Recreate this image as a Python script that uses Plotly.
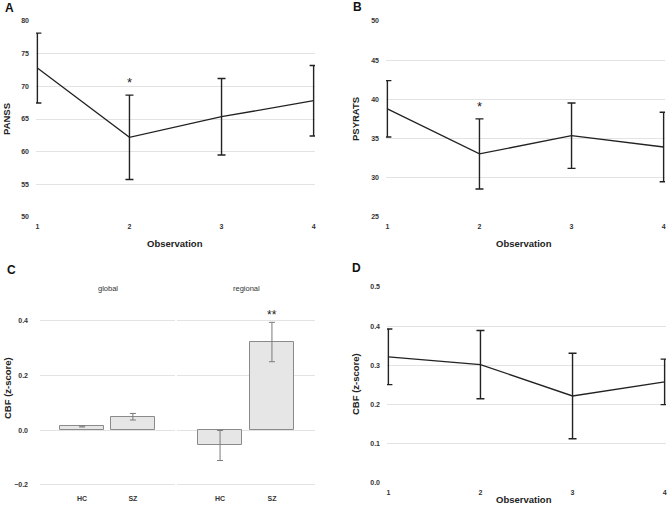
import plotly.graph_objects as go

W, H = 669, 515

observation = [1, 2, 3, 4]

panss_mean = [72.8, 62.2, 65.35, 67.8]
panss_err = [5.35, 6.45, 5.85, 5.4]

psyrats_mean = [38.8, 33.05, 35.37, 33.93]
psyrats_err = [3.6, 4.47, 4.17, 4.43]

cbf_obs_mean = [0.322, 0.302, 0.222, 0.258]
cbf_obs_err = [0.071, 0.087, 0.109, 0.058]

groups = ["HC", "SZ"]
cbf_global_mean = [0.0136, 0.049]
cbf_global_err = [0.002, 0.012]
cbf_regional_mean = [-0.056, 0.322]
cbf_regional_err = [0.055, 0.072]

FONT = "Liberation Sans, Arial, sans-serif"
TICK_FONT = dict(family=FONT, size=7, color="#333333", weight="bold")
GRID = "#e3e3e3"


def xdom(a, b):
    return [a / W, b / W]


def ydom(top, bottom):
    return [1 - bottom / H, 1 - top / H]


def line_trace(y, err, xa, ya):
    return go.Scatter(
        x=observation,
        y=y,
        mode="lines",
        line=dict(color="#222222", width=1.3),
        error_y=dict(type="data", array=err, visible=True, color="#222222", thickness=1.4, width=4),
        xaxis=xa,
        yaxis=ya,
        showlegend=False,
        cliponaxis=False,
    )


def bar_trace(y, err, xa, ya):
    return go.Bar(
        x=groups,
        y=y,
        width=0.86,
        marker=dict(color="#e6e6e6", line=dict(color="#8a8a8a", width=1)),
        error_y=dict(type="data", array=err, visible=True, color="#7a7a7a", thickness=1, width=3),
        xaxis=xa,
        yaxis=ya,
        showlegend=False,
    )


fig = go.Figure()
fig.add_trace(line_trace(panss_mean, panss_err, "x", "y"))
fig.add_trace(line_trace(psyrats_mean, psyrats_err, "x2", "y2"))
fig.add_trace(bar_trace(cbf_global_mean, cbf_global_err, "x3", "y3"))
fig.add_trace(bar_trace(cbf_regional_mean, cbf_regional_err, "x4", "y4"))
fig.add_trace(line_trace(cbf_obs_mean, cbf_obs_err, "x5", "y5"))

obs_x = dict(
    range=[0.985, 4.015], tickvals=observation, showgrid=False, zeroline=False,
    showline=False, tickfont=TICK_FONT, ticks="", ticklabelstandoff=4,
    automargin=False, ticklabeloverflow="allow",
)
cat_x = dict(
    range=[-0.83, 1.83], showgrid=False, zeroline=False, showline=False,
    tickfont=TICK_FONT, ticks="", ticklabelstandoff=4, automargin=False,
)


def yaxis(rng, dtick, fmt=None, **kw):
    d = dict(
        range=rng, dtick=dtick, showgrid=True, gridcolor=GRID, gridwidth=1,
        zeroline=False, showline=False, tickfont=TICK_FONT, ticks="",
        ticklabelstandoff=6, automargin=False,
    )
    if fmt:
        d["tickformat"] = fmt
    d.update(kw)
    return d


fig.update_layout(
    template="none",
    width=W,
    height=H,
    margin=dict(l=0, r=0, t=0, b=0),
    paper_bgcolor="white",
    plot_bgcolor="white",
    font=dict(family=FONT, color="#222222"),
    bargap=0,
    xaxis=dict(obs_x, domain=xdom(36, 315), anchor="y"),
    yaxis=yaxis([50, 80], 5, domain=ydom(21, 217), anchor="x"),
    xaxis2=dict(obs_x, domain=xdom(386, 665), anchor="y2"),
    yaxis2=yaxis([25, 50], 5, domain=ydom(21, 217), anchor="x2"),
    xaxis3=dict(cat_x, domain=xdom(40, 175), anchor="y3"),
    yaxis3=yaxis([-0.215, 0.45], 0.2, ".1f", domain=ydom(307, 489), anchor="x3", tick0=0,
                 ticklabelstandoff=11),
    xaxis4=dict(cat_x, domain=xdom(177, 315), anchor="y4"),
    yaxis4=yaxis([-0.215, 0.45], 0.2, domain=ydom(307, 489), anchor="x4", tick0=0,
                 showticklabels=False),
    xaxis5=dict(obs_x, domain=xdom(387, 666), anchor="y5"),
    yaxis5=yaxis([0, 0.5], 0.1, ".1f", domain=ydom(287, 483), anchor="x5"),
)


def label(txt, x, y, font, angle=0):
    # paper-pixel placement, always centred on the point
    return dict(text=txt, x=x / W, y=1 - y / H, xref="paper", yref="paper",
                xanchor="center", yanchor="middle", showarrow=False,
                textangle=angle, font=font)


ann = []
# panel letters
for txt, x, y in [("A", 9.5, 8), ("B", 358, 7), ("C", 11, 270), ("D", 356, 268)]:
    ann.append(label("<b>%s</b>" % txt, x, y, dict(size=12, family=FONT, color="#111111")))
# axis titles
title_font = dict(size=9.5, family=FONT, color="#222222")
for txt, x, y in [("Observation", 175, 243), ("Observation", 524, 243), ("Observation", 524, 499)]:
    ann.append(label("<b>%s</b>" % txt, x, y, title_font))
for txt, x, y in [("PANSS", 6, 119), ("PSYRATS", 355, 119), ("CBF (z-score)", 7, 388),
                  ("CBF (z-score)", 355, 384)]:
    ann.append(label("<b>%s</b>" % txt, x, y, title_font, angle=-90))
# facet titles
for txt, x in [("global", 108), ("regional", 246)]:
    ann.append(label(txt, x, 288, dict(size=7.5, family=FONT, color="#333333")))
# significance stars
star_font = dict(size=13, family=FONT, color="#222222")
ann.append(dict(text="*", x=2, y=70.6, xref="x", yref="y", showarrow=False, font=star_font))
ann.append(dict(text="*", x=2, y=39.1, xref="x2", yref="y2", showarrow=False, font=star_font))
ann.append(dict(text="**", x="SZ", y=0.42, xref="x4", yref="y4", showarrow=False,
                font=dict(size=12, family=FONT, color="#222222")))
fig.update_layout(annotations=ann)

# the page's default 8px body margin would push the figure off the window
fig.write_html("out.html", config={"displayModeBar": False},
               post_script="document.body.style.margin='0';")
